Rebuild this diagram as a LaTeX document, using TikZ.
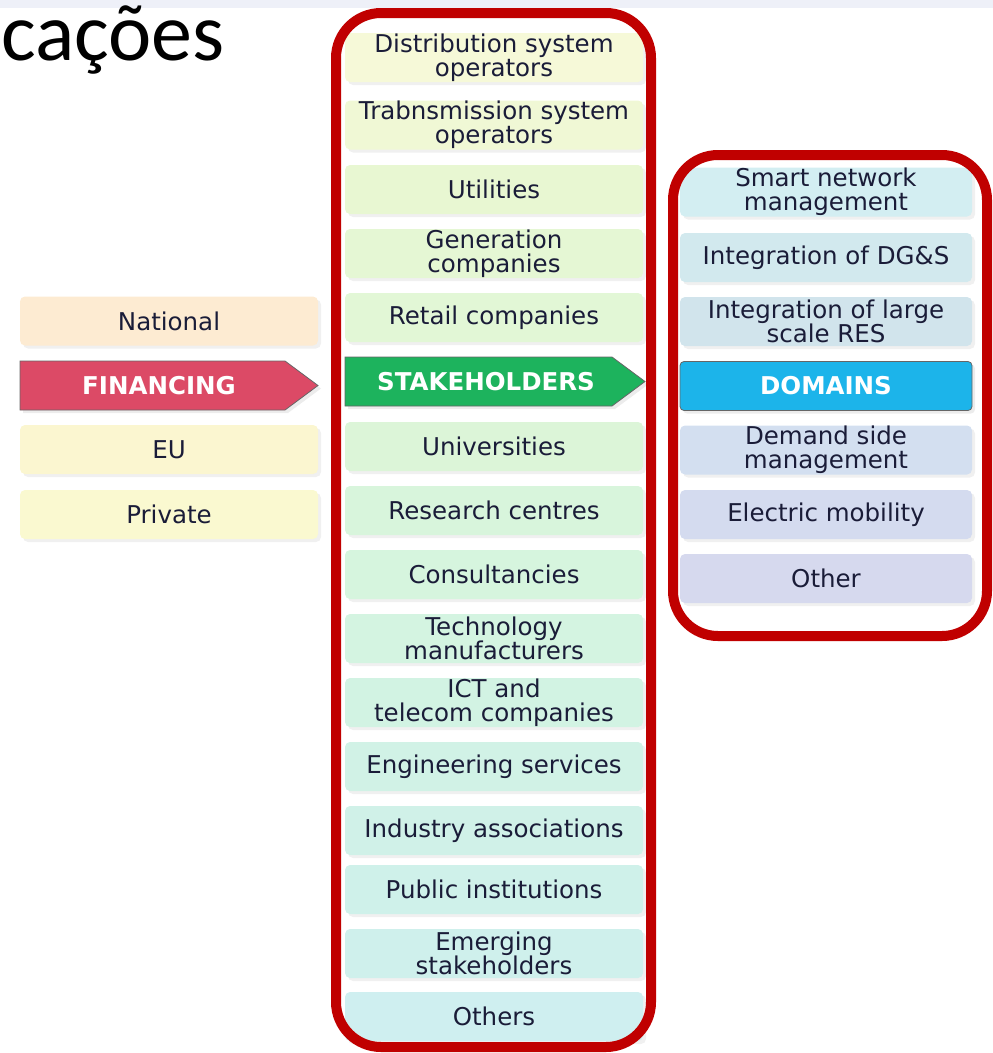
\documentclass[tikz,border=0pt]{standalone}
\usepackage{fontspec}
\setmainfont{DejaVu Sans}
\newfontfamily\titlefont{Carlito}
\usetikzlibrary{shadows}
\definecolor{ink}{HTML}{1A1C38}
\definecolor{frame}{HTML}{C00000}
\definecolor{band}{HTML}{EEF0F8}
\definecolor{national}{HTML}{FDEBD2}
\definecolor{eu}{HTML}{FBF6D0}
\definecolor{private}{HTML}{FAF9D0}
\definecolor{financing}{HTML}{DC4A66}
\definecolor{stake}{HTML}{1DB35D}
\definecolor{domains}{HTML}{1CB4EA}
\definecolor{sA}{HTML}{F6F9D8}
\definecolor{sB}{HTML}{F0F8D5}
\definecolor{sC}{HTML}{E8F7D2}
\definecolor{sD}{HTML}{E5F7D4}
\definecolor{sE}{HTML}{E2F7D6}
\definecolor{sF}{HTML}{DCF5D8}
\definecolor{sG}{HTML}{D8F5DC}
\definecolor{sH}{HTML}{D6F5DE}
\definecolor{sI}{HTML}{D4F4E1}
\definecolor{sJ}{HTML}{D2F3E3}
\definecolor{sK}{HTML}{D1F2E6}
\definecolor{sL}{HTML}{D0F1E8}
\definecolor{sM}{HTML}{CFF1EA}
\definecolor{sN}{HTML}{CFF0EC}
\definecolor{sO}{HTML}{CFEFF0}
\definecolor{dA}{HTML}{D3EEF2}
\definecolor{dB}{HTML}{D2E9EE}
\definecolor{dC}{HTML}{D1E4EC}
\definecolor{dD}{HTML}{D3DFF0}
\definecolor{dE}{HTML}{D4DBEF}
\definecolor{dF}{HTML}{D6D9EE}

\begin{document}
\begin{tikzpicture}[x=1pt,y=-1pt,
    item/.style={rounded corners=5pt, minimum width=298pt, minimum height=49pt,
      inner sep=0pt, align=center, text=ink, font=\fontsize{24.5}{24}\selectfont,
      drop shadow={opacity=0.12, shadow xshift=3pt, shadow yshift=-3pt}},
    ditem/.style={item, minimum width=292pt},
    headtext/.style={inner sep=0pt, text=white, font=\bfseries\fontsize{24.5}{24}\selectfont},
    headbody/.style={draw=gray!80!black, line width=0.8pt,
      drop shadow={opacity=0.15, shadow xshift=3pt, shadow yshift=-3pt}},
    ring/.style={draw=frame, line width=10pt, rounded corners=45pt}]
  \useasboundingbox (0,0) rectangle (993,1053);
  \fill[band] (0,0) rectangle (993,8);
  \node[anchor=base west, inner sep=0pt, font=\titlefont\fontsize{82}{82}\selectfont] (title) at (1,60) {cações};

  % financing
  \node[item, fill=national] (national) at (169,321) {National};
  \filldraw[headbody, fill=financing] (20,361) -- (285,361) -- (318,385.5) -- (285,410) -- (20,410) -- cycle;
  \node[headtext] (financing) at (159,385.5) {FINANCING};
  \node[item, fill=eu] (eu) at (169,449.5) {EU};
  \node[item, fill=private] (private) at (169,514.5) {Private};

  % stakeholders
  \node[item, fill=sA] (dso) at (494,57.5) {Distribution system\\operators};
  \node[item, fill=sB] (tso) at (494,125) {Trabnsmission system\\operators};
  \node[item, fill=sC] (util) at (494,189.5) {Utilities};
  \node[item, fill=sD] (gen) at (494,253.5) {Generation\\companies};
  \node[item, fill=sE] (retail) at (494,317.5) {Retail companies};
  \filldraw[headbody, fill=stake] (345,357) -- (612,357) -- (645,381.5) -- (612,406) -- (345,406) -- cycle;
  \node[headtext] (stakeholders) at (486,381.5) {STAKEHOLDERS};
  \node[item, fill=sF] (uni) at (494,446.5) {Universities};
  \node[item, fill=sG] (research) at (494,510.5) {Research centres};
  \node[item, fill=sH] (consult) at (494,574.5) {Consultancies};
  \node[item, fill=sI] (tech) at (494,638.5) {Technology\\manufacturers};
  \node[item, fill=sJ] (ict) at (494,702.5) {ICT and\\telecom companies};
  \node[item, fill=sK] (eng) at (494,766.5) {Engineering services};
  \node[item, fill=sL] (industry) at (494,830.5) {Industry associations};
  \node[item, fill=sM] (public) at (494,889.5) {Public institutions};
  \node[item, fill=sN] (emerging) at (494,953.5) {Emerging\\stakeholders};
  \node[item, fill=sO] (others) at (494,1016.5) {Others};

  % domains
  \node[ditem, fill=dA] (smart) at (826,192) {Smart network\\management};
  \node[ditem, fill=dB] (dgs) at (826,257.5) {Integration of DG\&S};
  \node[ditem, fill=dC] (res) at (826,321.5) {Integration of large\\scale RES};
  \node[headbody, headtext, rounded corners=4pt, minimum width=292pt, minimum height=49pt, fill=domains] (domains) at (826,386) {DOMAINS};
  \node[ditem, fill=dD] (demand) at (826,450) {Demand side\\management};
  \node[ditem, fill=dE] (mobility) at (826,514.5) {Electric mobility};
  \node[ditem, fill=dF] (other) at (826,578.5) {Other};

  \draw[ring] (336,13) rectangle (651,1047);
  \draw[ring] (673,155) rectangle (987,636);
\end{tikzpicture}
\end{document}
